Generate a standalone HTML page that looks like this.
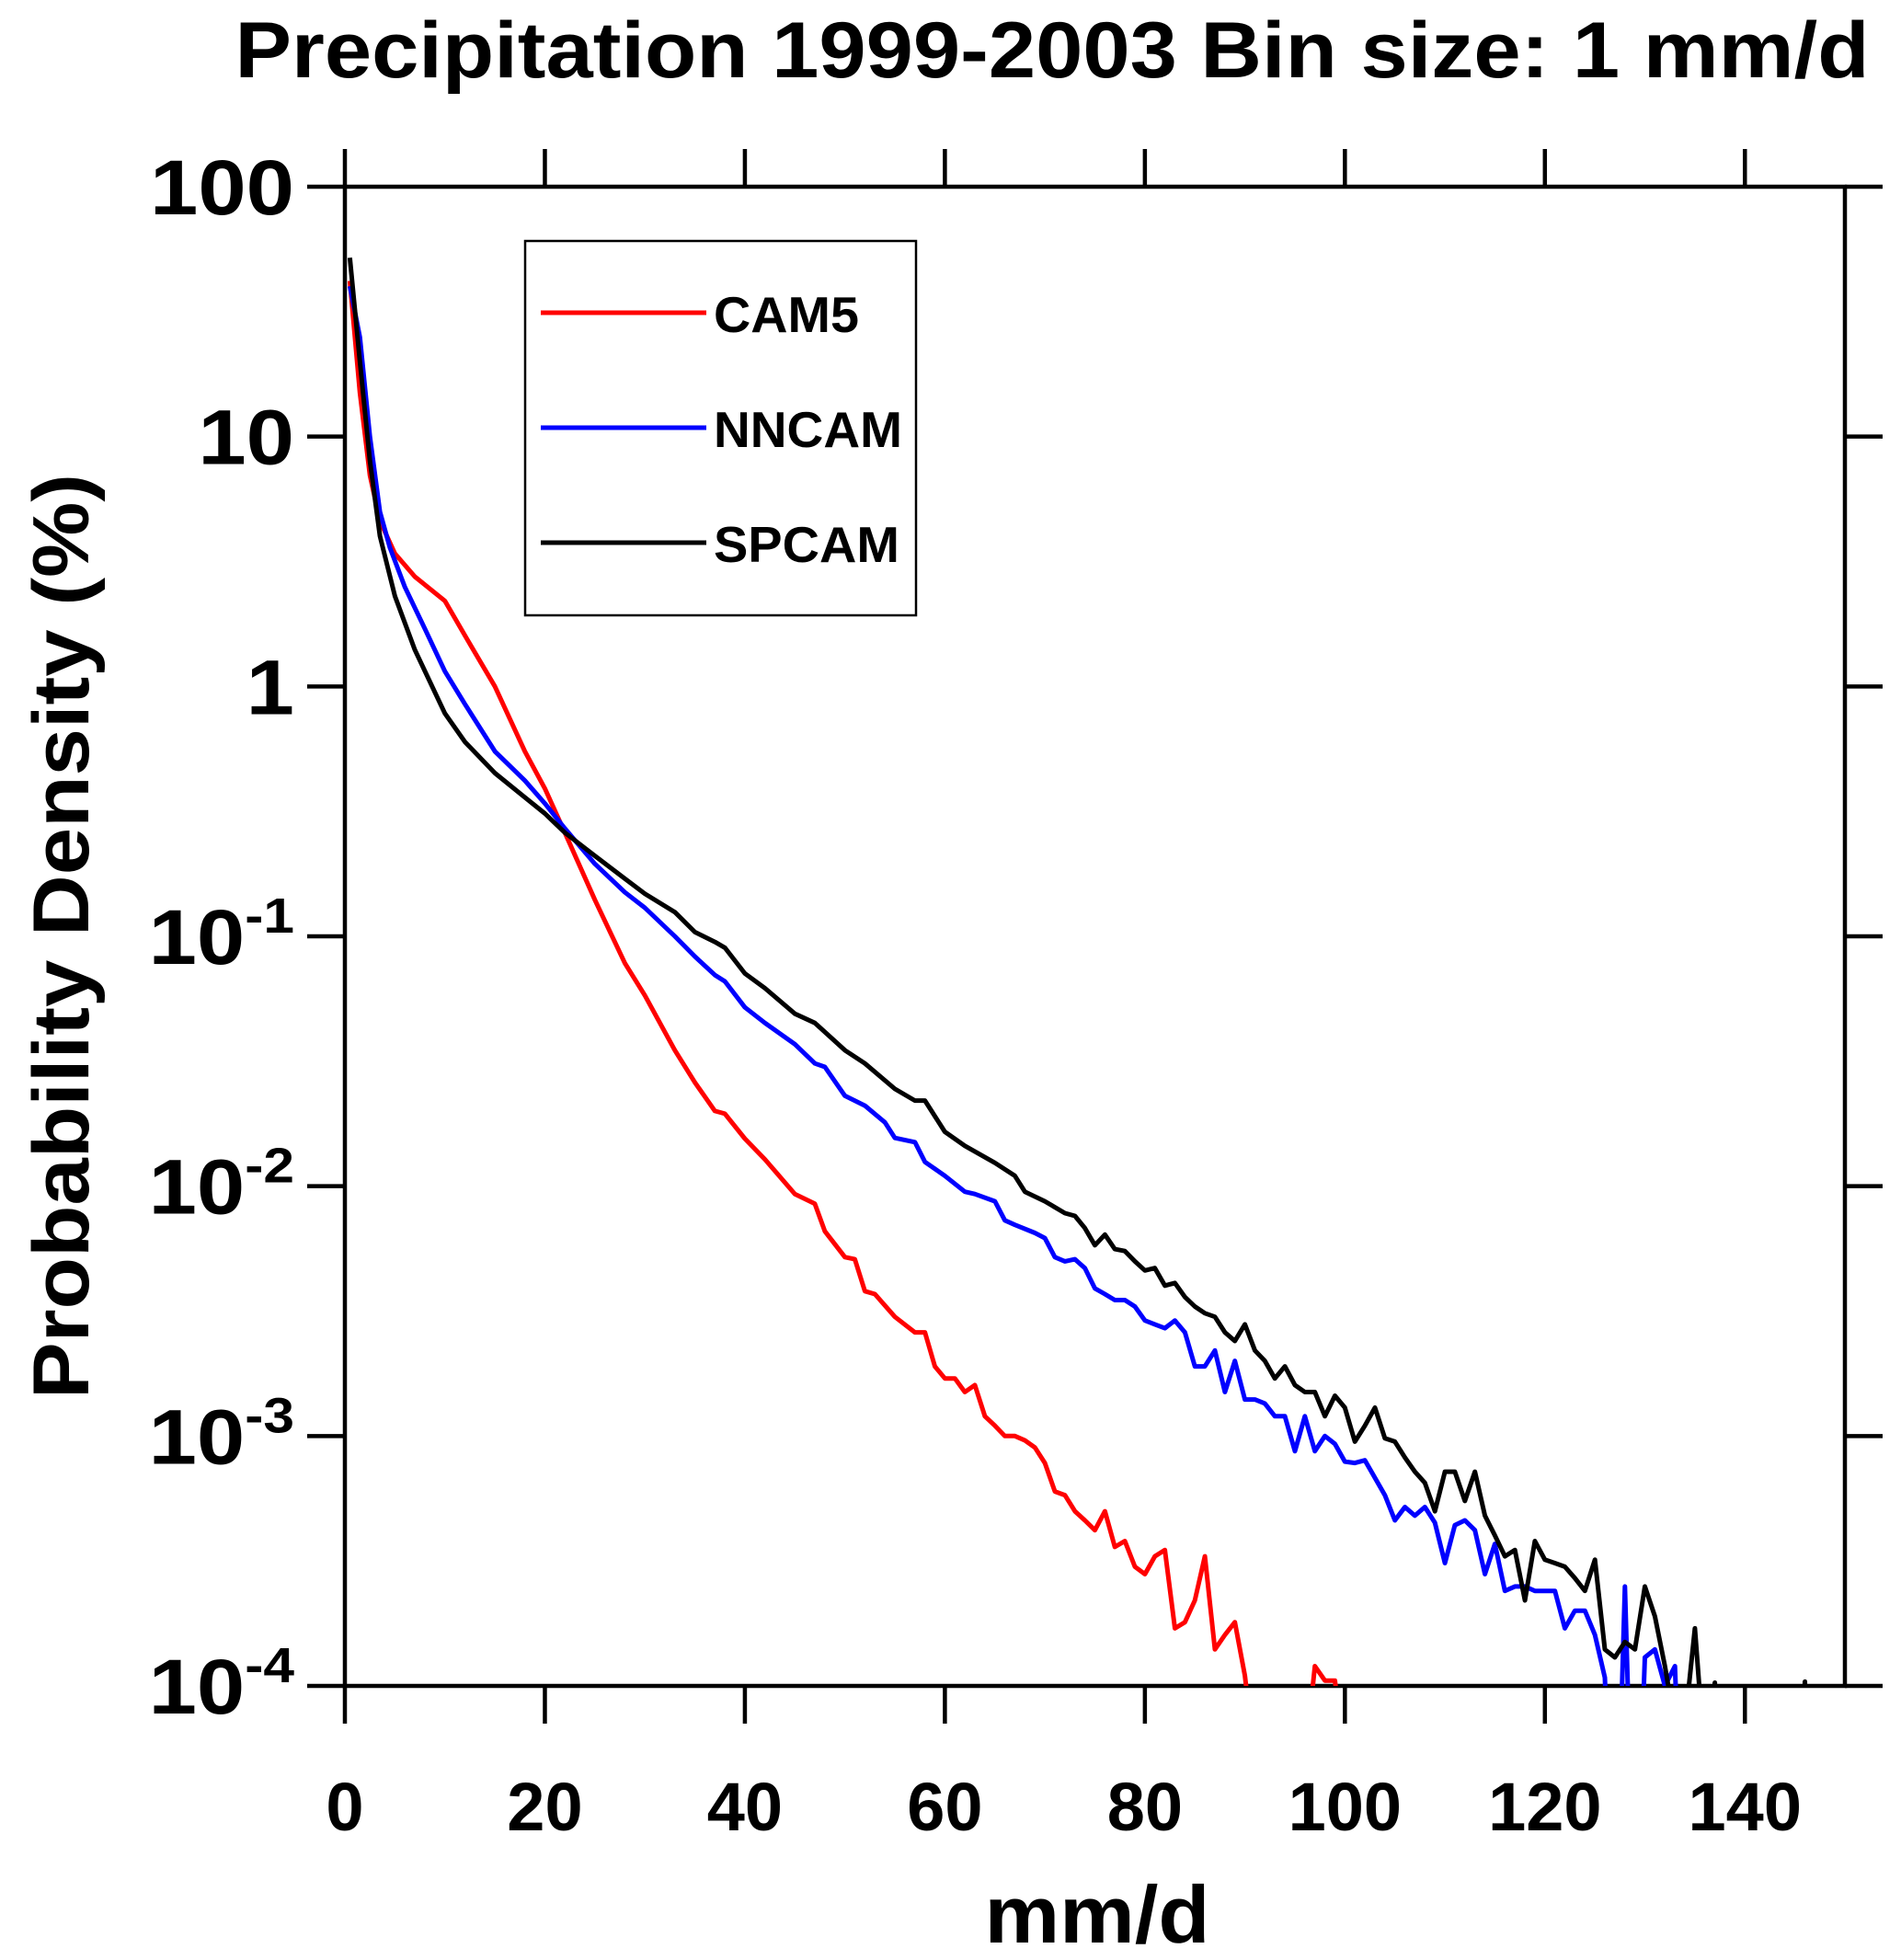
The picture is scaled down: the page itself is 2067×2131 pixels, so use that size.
<!DOCTYPE html>
<html><head><meta charset="utf-8"><style>
html,body{margin:0;padding:0;background:#fff;}
svg{display:block;font-family:"Liberation Sans",sans-serif;font-weight:bold;}
</style></head><body>
<svg id="chart" width="2067" height="2131" viewBox="0 0 2067 2131" xmlns="http://www.w3.org/2000/svg">
<defs><clipPath id="plotclip"><rect x="375" y="203" width="1631" height="1630"/></clipPath></defs>
<text x="1144" y="84" font-size="86" text-anchor="middle" textLength="1777" lengthAdjust="spacingAndGlyphs">Precipitation 1999-2003 Bin size: 1 mm/d</text>
<g id="axes"></g>
<g id="series" clip-path="url(#plotclip)"></g>
<g>
<rect x="571" y="262" width="425" height="407" fill="#fff" stroke="#000" stroke-width="2.5"/>
<line x1="588" y1="340" x2="768" y2="340" stroke="#ff0000" stroke-width="5"/>
<text x="776" y="361" font-size="55" textLength="158" lengthAdjust="spacingAndGlyphs">CAM5</text>
<line x1="588" y1="465" x2="768" y2="465" stroke="#0000ff" stroke-width="5"/>
<text x="776" y="486" font-size="55" textLength="205" lengthAdjust="spacingAndGlyphs">NNCAM</text>
<line x1="588" y1="590" x2="768" y2="590" stroke="#000" stroke-width="5"/>
<text x="776" y="611" font-size="55" textLength="202" lengthAdjust="spacingAndGlyphs">SPCAM</text>
</g>
<text x="1193" y="2112" font-size="88" text-anchor="middle" textLength="245" lengthAdjust="spacingAndGlyphs">mm/d</text>
<text transform="translate(96,1018) rotate(-90)" font-size="86" text-anchor="middle" textLength="1006" lengthAdjust="spacingAndGlyphs">Probability Density (%)</text>
</svg>
<script>
const xTicks = [0,20,40,60,80,100,120,140];
const yTickExps = [2,1,0,-1,-2,-3,-4];
const yTickLabels = ["100","10","1","10","10","10","10"];
const yTickSups = ["","","","-1","-2","-3","-4"];

const cam5X = [0.5,1.5,2.5,3.5,5,7,10,12,15,18,20,22,25,28,30,33,35,37,38,40,42,45,47,48,50,51,52,53,55,57,58,59,60,61,62,63,64,65,66,67,68,69,70,71,72,73,74,75,76,77,78,79,80,81,82,83,84,85,86,87,88,89,90,91,96,97,98,99,100];
const cam5Y = [42,15,7,4.6,3.4,2.75,2.2,1.6,1.0,0.55,0.39,0.26,0.14,0.078,0.058,0.035,0.026,0.02,0.0195,0.0155,0.0128,0.0093,0.0085,0.0066,0.0052,0.0051,0.0038,0.0037,0.003,0.0026,0.0026,0.0019,0.0017,0.0017,0.0015,0.0016,0.0012,0.0011,0.001,0.001,0.00096,0.0009,0.00078,0.0006,0.00058,0.0005,0.00046,0.00042,0.0005,0.00036,0.00038,0.0003,0.00028,0.00033,0.00035,0.00017,0.00018,0.00022,0.00033,0.00014,0.00016,0.00018,0.00011,0.00005,0.00005,0.00012,0.000105,0.000105,0.00005];

const nnX = [0.5,1.5,2.5,3.5,4.5,6,8,10,12,15,18,20,22,25,28,30,33,35,37,38,40,42,45,47,48,50,52,54,55,57,58,60,62,63,65,66,67,69,70,71,72,73,74,75,76,77,78,79,80,81,82,83,84,85,86,87,88,89,90,91,92,93,94,95,96,97,98,99,100,101,102,103,104,105,106,107,108,109,110,111,112,113,114,115,116,117,118,119,120,121,122,123,124,125,126,127,128,129,130,131,132,133,134];
const nnY = [40,25,10,5,3.6,2.5,1.7,1.15,0.85,0.55,0.42,0.34,0.27,0.195,0.15,0.13,0.1,0.083,0.07,0.066,0.052,0.045,0.037,0.031,0.03,0.023,0.021,0.018,0.0156,0.015,0.0125,0.011,0.0095,0.0093,0.0087,0.0073,0.007,0.0065,0.0062,0.0052,0.005,0.0051,0.0047,0.0039,0.0037,0.0035,0.0035,0.0033,0.0029,0.0028,0.0027,0.0029,0.0026,0.0019,0.0019,0.0022,0.0015,0.002,0.0014,0.0014,0.00135,0.0012,0.0012,0.00087,0.0012,0.00087,0.001,0.00093,0.00079,0.00078,0.0008,0.00068,0.00058,0.00046,0.00052,0.00048,0.00052,0.00045,0.00031,0.00044,0.00046,0.00042,0.00028,0.00037,0.00024,0.00025,0.00025,0.00024,0.00024,0.00024,0.00017,0.0002,0.0002,0.00016,0.000108,0.00001,0.00025,0.00001,0.00013,0.00014,0.0001,0.00012,0.00001];

const spX = [0.5,1.5,2.5,3.5,5,7,10,12,15,18,20,22,25,28,30,33,35,37,38,40,42,45,47,50,52,55,57,58,60,62,65,67,68,70,72,73,74,75,76,77,78,79,80,81,82,83,84,85,86,87,88,89,90,91,92,93,94,95,96,97,98,99,100,101,102,103,104,105,106,107,108,109,110,111,112,113,114,115,116,117,118,119,120,121,122,123,124,125,126,127,128,129,130,131,132,133,134,135,136,137,138,145,146,147];
const spY = [52,20,8,4,2.3,1.4,0.78,0.6,0.45,0.36,0.31,0.26,0.21,0.17,0.148,0.125,0.104,0.095,0.09,0.071,0.062,0.049,0.045,0.035,0.031,0.0245,0.022,0.022,0.0165,0.0145,0.0124,0.011,0.0095,0.0087,0.0078,0.0076,0.0068,0.0058,0.0064,0.0056,0.0055,0.005,0.0046,0.0047,0.004,0.0041,0.0036,0.0033,0.0031,0.003,0.0026,0.0024,0.0028,0.0022,0.002,0.0017,0.0019,0.0016,0.0015,0.0015,0.0012,0.00145,0.0013,0.00095,0.0011,0.0013,0.00098,0.00095,0.00082,0.00072,0.00065,0.0005,0.00072,0.00072,0.00055,0.00072,0.00048,0.0004,0.00033,0.00035,0.00022,0.00038,0.00032,0.00031,0.0003,0.00027,0.00024,0.00032,0.00014,0.00013,0.00015,0.00014,0.00025,0.00019,0.00012,0.00007,0.00007,0.00017,0.00005,0.000103,0.00001,0.00001,0.000104,0.00001];

const X0=375, X1=2006, Y0=203, Y1=1833;
function xs(v){return X0+(v/150)*(X1-X0);}
function ys(v){const l=Math.log10(Math.max(v,1e-6));return Y0+(2-l)/6*(Y1-Y0);}
const NS='http://www.w3.org/2000/svg';
const axes=document.getElementById('axes');
const ser=document.getElementById('series');
function mk(tag,attrs,parent){const e=document.createElementNS(NS,tag);for(const k in attrs)e.setAttribute(k,attrs[k]);parent.appendChild(e);return e;}

const frame=mk('rect',{x:X0,y:Y0,width:X1-X0,height:Y1-Y0,fill:'none',stroke:'#000','stroke-width':4.5},axes);


xTicks.forEach(v=>{
  const x=xs(v);
  const t1=mk('line',{x1:x,y1:Y1,x2:x,y2:Y1+41,stroke:'#000','stroke-width':4.5},axes);
  
  
  const t2=mk('line',{x1:x,y1:Y0,x2:x,y2:Y0-41,stroke:'#000','stroke-width':4.5},axes);
  
  
  const lb=mk('text',{x:x,y:1990,'font-size':74,'text-anchor':'middle'},axes);
  lb.textContent=String(v);
  
  
});
yTickExps.forEach((e,i)=>{
  const y=ys(Math.pow(10,e));
  const t1=mk('line',{x1:X0-41,y1:y,x2:X0,y2:y,stroke:'#000','stroke-width':4.5},axes);
  
  
  const t2=mk('line',{x1:X1,y1:y,x2:X1+41,y2:y,stroke:'#000','stroke-width':4.5},axes);
  
  
  const g=mk('g',{transform:'translate(320,'+(y+30)+') scale(1.12,1)'},axes);
  const lb=mk('text',{x:0,y:0,'font-size':84,'text-anchor':'end'},g);
  
  
  if(yTickSups[i]){
    const a=mk('tspan',{},lb);a.textContent=yTickLabels[i];
    const b=mk('tspan',{dy:-34,'font-size':54},lb);b.textContent=yTickSups[i];
  } else lb.textContent=yTickLabels[i];
});
function drawSeries(xa,ya,color,name){
  const d=xa.map((v,i)=>(i?'L':'M')+xs(v).toFixed(1)+','+ys(ya[i]).toFixed(1)).join(' ');
  const p=mk('path',{d:d,fill:'none',stroke:color,'stroke-width':5,'stroke-linejoin':'round'},ser);
  
  
}
drawSeries(cam5X,cam5Y,'#ff0000','cam5-line');
drawSeries(nnX,nnY,'#0000ff','nncam-line');
drawSeries(spX,spY,'#000000','spcam-line');
</script>
</body></html>
